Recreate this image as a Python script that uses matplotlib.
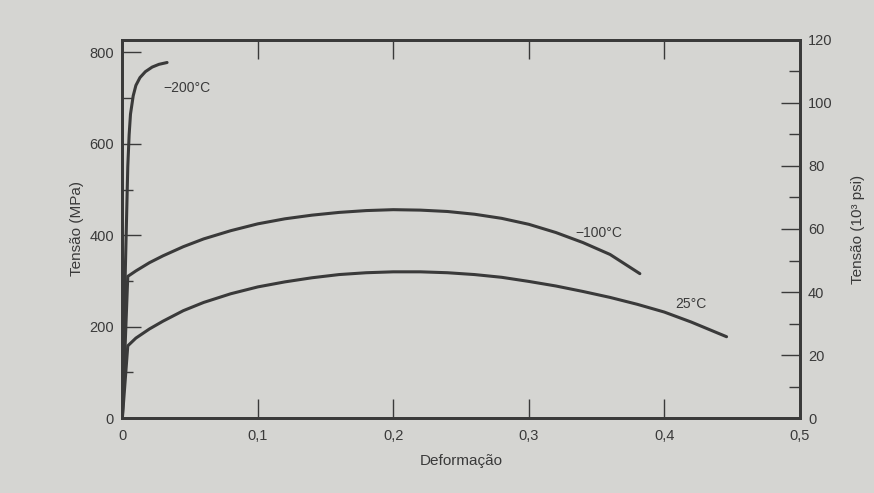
import matplotlib.pyplot as plt
from matplotlib.ticker import MultipleLocator, FuncFormatter

plt.rcParams['font.family'] = ['Liberation Sans', 'DejaVu Sans']

# curves: strain, stress (MPa)
strain_m200 = [0, 0.002, 0.004, 0.005, 0.006, 0.008, 0.010, 0.013, 0.017, 0.022, 0.027, 0.033]
stress_m200 = [0, 300, 550, 620, 665, 705, 728, 745, 758, 768, 774, 778]
strain_m100 = [0, 0.004, 0.01, 0.02, 0.03, 0.045, 0.06, 0.08, 0.1, 0.12, 0.14, 0.16, 0.18, 0.2,
               0.22, 0.24, 0.26, 0.28, 0.3, 0.32, 0.34, 0.36, 0.382]
stress_m100 = [0, 310, 322, 340, 355, 375, 392, 410, 425, 436, 444, 450, 454, 456,
               455, 452, 446, 437, 424, 406, 384, 358, 316]
strain_25 = [0, 0.004, 0.01, 0.02, 0.03, 0.045, 0.06, 0.08, 0.1, 0.12, 0.14, 0.16, 0.18, 0.2,
             0.22, 0.24, 0.26, 0.28, 0.3, 0.32, 0.34, 0.36, 0.38, 0.4, 0.42, 0.446]
stress_25 = [0, 158, 175, 195, 212, 235, 253, 272, 287, 298, 307, 314, 318, 320,
             320, 318, 314, 308, 299, 289, 277, 264, 249, 232, 210, 178]
labels = ['\u2212200\u00b0C', '\u2212100\u00b0C', '25\u00b0C']
label_pos = [(0.03, 722), (0.352, 405), (0.42, 250)]

bg = '#d5d5d2'
ink = '#3a3a3a'
fig = plt.figure(figsize=(8.74, 4.93), dpi=100, facecolor=bg)
ax = fig.add_axes([0.14, 0.152, 0.775, 0.767], facecolor=bg)

for x, y in [(strain_m200, stress_m200), (strain_m100, stress_m100), (strain_25, stress_25)]:
    ax.plot(x, y, color=ink, lw=2.2, solid_capstyle='round', solid_joinstyle='round')
for txt, (tx, ty) in zip(labels, label_pos):
    ha = 'left' if tx < 0.1 else 'center'
    ax.text(tx, ty, txt, color=ink, fontsize=10, ha=ha, va='center')

ax.set_xlim(0, 0.5)
ax.set_ylim(0, 827.4)
ax.xaxis.set_major_locator(MultipleLocator(0.1))
ax.xaxis.set_major_formatter(FuncFormatter(lambda v, p: ('%g' % round(v, 2)).replace('.', ',')))
ax.yaxis.set_major_locator(MultipleLocator(200))
ax.yaxis.set_minor_locator(MultipleLocator(100))
ax.tick_params(axis='both', which='both', direction='in', colors=ink, labelsize=10.5)
ax.tick_params(axis='x', which='major', length=14, top=True, width=1, pad=8)
ax.tick_params(axis='y', which='major', length=14, width=1, pad=6)
ax.tick_params(axis='y', which='minor', length=8, width=1)
ax.set_xlabel('Deformação', fontsize=11, color=ink, labelpad=8)
ax.set_ylabel('Tensão (MPa)', fontsize=11, color=ink)
for s in ax.spines.values():
    s.set_linewidth(2)
    s.set_color(ink)

ax2 = ax.twinx()
ax2.set_ylim(0, 120)
ax2.yaxis.set_major_locator(MultipleLocator(20))
ax2.yaxis.set_minor_locator(MultipleLocator(10))
ax2.tick_params(axis='y', which='both', direction='in', colors=ink, labelsize=10.5)
ax2.tick_params(axis='y', which='major', length=14, width=1, pad=6)
ax2.tick_params(axis='y', which='minor', length=8, width=1)
ax2.set_ylabel('Tensão (10³ psi)', fontsize=11, color=ink)
ax2.yaxis.set_label_coords(1.075, 0.5)
for s in ax2.spines.values():
    s.set_linewidth(2)
    s.set_color(ink)

fig.savefig('out.png', dpi=100, facecolor=bg)
